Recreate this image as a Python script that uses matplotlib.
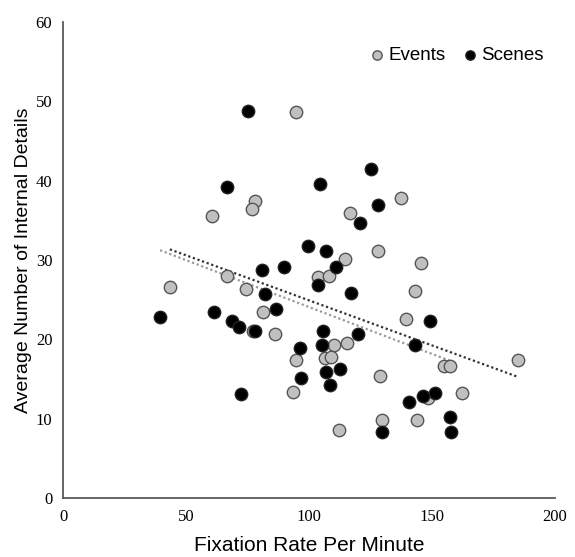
import numpy as np
from matplotlib import pyplot as plt

# values
events_x = [94.8, 78.0, 76.7, 60.3, 66.5, 43.3, 74.4, 137.5, 116.5, 127.8, 114.4, 145.4,
            103.7, 108.0, 142.9, 81.1, 77.1, 86.1, 94.8, 93.3, 139.4, 109.9, 115.2, 106.6,
            108.9, 154.9, 157.1, 185.0, 128.8, 148.2, 162.2, 129.7, 143.9, 112.3]
events_y = [48.7, 37.4, 36.4, 35.6, 28.0, 26.6, 26.4, 37.8, 35.9, 31.1, 30.1, 29.6,
            27.9, 28.0, 26.1, 23.5, 21.1, 20.7, 17.4, 13.3, 22.6, 19.3, 19.6, 17.7,
            17.8, 16.6, 16.6, 17.4, 15.4, 12.6, 13.2, 9.8, 9.8, 8.6]

scenes_x = [74.9, 66.7, 99.4, 80.7, 89.9, 81.8, 125.0, 104.5, 127.8, 120.5, 107.0, 110.8,
            103.7, 117.1, 39.3, 61.2, 86.6, 68.6, 71.6, 77.8, 96.3, 96.7, 72.4, 149.3,
            105.5, 120.0, 105.0, 142.9, 106.9, 112.7, 108.4, 140.5, 146.3, 151.1, 157.1,
            129.7, 157.6]
scenes_y = [48.8, 39.2, 31.8, 28.8, 29.1, 25.7, 41.5, 39.6, 36.9, 34.7, 31.1, 29.1,
            26.8, 25.8, 22.8, 23.5, 23.8, 22.3, 21.6, 21.1, 18.9, 15.1, 13.1, 22.3,
            21.1, 20.7, 19.3, 19.3, 15.9, 16.2, 14.3, 12.1, 12.8, 13.2, 10.2,
            8.3, 8.3]

x_ticks = [0, 50, 100, 150, 200]
y_ticks = [0, 10, 20, 30, 40, 50, 60]

fig = plt.figure(figsize=(5.75, 5.57), dpi=100)
ax = fig.add_axes([0.1104, 0.1059, 0.8548, 0.8546])

ax.scatter(events_x, events_y, s=80, c="#c0c0c0", edgecolors="#555555", linewidths=1.0,
           label="Events", zorder=3)
ax.scatter(scenes_x, scenes_y, s=80, c="black", edgecolors="#222222", linewidths=1.0,
           label="Scenes", zorder=3)

# linear trendlines over each series' range
for xs, ys, col in [(scenes_x, scenes_y, "#9a9a9a"), (events_x, events_y, "#333333")]:
    k, b = np.polyfit(xs, ys, 1)
    xx = np.array([min(xs), max(xs)])
    ax.plot(xx, k * xx + b, linestyle=(0, (1, 1.2)), color=col, linewidth=1.6, zorder=2)

ax.set_xlim(0, 200)
ax.set_ylim(0, 60)
ax.set_xticks(x_ticks)
ax.set_yticks(y_ticks)
ax.tick_params(length=0, pad=8)
for lab in ax.get_xticklabels() + ax.get_yticklabels():
    lab.set_fontfamily("Liberation Serif")
    lab.set_fontsize(12)

for side in ["top", "right"]:
    ax.spines[side].set_visible(False)
for side in ["left", "bottom"]:
    ax.spines[side].set_color("#595959")
    ax.spines[side].set_linewidth(1.3)

ax.set_xlabel("Fixation Rate Per Minute", fontfamily="Liberation Sans", fontsize=15, labelpad=8)
ax.set_ylabel("Average Number of Internal Details", fontfamily="Liberation Sans", fontsize=14,
              labelpad=2.8)

leg = ax.legend(loc="upper right", ncol=2, frameon=False, markerscale=0.75, handlelength=0.8,
                handletextpad=0.2, columnspacing=0.9, borderaxespad=0.1,
                bbox_to_anchor=(0.996, 0.968),
                prop={"family": "Liberation Sans", "size": 13.5})

fig.savefig("out.png", dpi=100)
